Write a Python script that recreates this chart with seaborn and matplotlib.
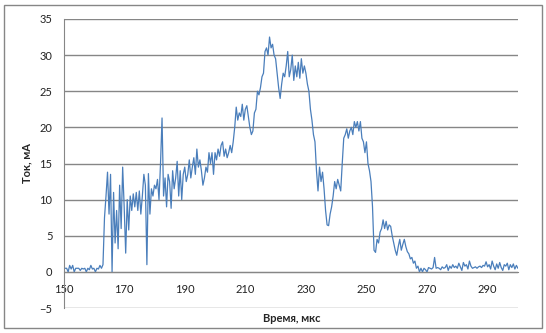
import numpy as np
import pandas as pd
import seaborn as sns
import matplotlib.pyplot as plt
from matplotlib.patches import Rectangle

# sampling of the trace (µs)
t_start = 150.0
t_step = 0.5

# current, mA, every 0.5 µs from 150 to 300
current = [
    0.5, 0.5, 0.5, 0.0, 0.9, 0.4, 0.9, 0.0, 0.5, 0.5, 0.5, 0.2, 0.5, 0.4, 0.5, 0.0, 0.5, 0.3, 0.9, 0.4,
    0.5, 0.0, 0.5, 0.4, 0.9, 0.5, 1.0, 7.5, 10.5, 13.8, 8.0, 13.5, 0.0, 11.0, 4.0, 8.5, 3.2, 12.0, 6.0, 14.5,
    9.0, 2.6, 10.0, 5.8, 10.5, 8.5, 10.8, 9.0, 11.0, 8.5, 11.2, 8.0, 10.5, 13.5, 12.0, 1.0, 13.6, 8.0, 11.5, 10.5,
    12.0, 11.5, 12.8, 10.0, 15.0, 21.3, 10.5, 13.0, 9.0, 13.5, 12.5, 8.8, 14.0, 11.5, 13.0, 15.3, 10.5, 14.0, 10.0, 13.5,
    14.5, 12.5, 13.5, 15.5, 13.0, 14.5, 15.8, 13.5, 17.0, 14.5, 15.5, 14.0, 12.0, 13.0, 14.5, 13.8, 16.5, 15.0, 16.5, 13.5,
    16.5, 15.5, 17.0, 16.0, 17.5, 18.0, 16.0, 17.0, 15.8, 16.5, 17.5, 16.5, 18.0, 20.0, 22.8, 21.0, 22.0, 21.5, 23.2, 21.0,
    22.5, 23.0, 21.5, 20.0, 19.0, 19.5, 22.0, 22.5, 25.0, 24.5, 25.5, 27.0, 27.5, 30.5, 31.0, 30.0, 32.5, 31.0, 31.5, 30.0,
    29.5, 27.5, 25.5, 24.0, 26.0, 27.5, 27.0, 28.5, 30.5, 27.0, 28.0, 30.0, 26.5, 28.5, 27.0, 29.0, 26.8, 29.5, 27.5, 28.5,
    27.5, 26.0, 25.0, 22.5, 21.0, 19.0, 18.0, 14.0, 11.2, 14.5, 12.5, 13.8, 11.5, 8.5, 6.5, 6.4, 8.0, 9.0, 10.5, 12.5,
    11.5, 12.8, 12.0, 11.2, 15.0, 18.5, 19.0, 19.8, 18.5, 19.5, 20.0, 19.0, 20.8, 20.0, 20.8, 19.5, 20.8, 18.5, 18.0, 16.5,
    18.0, 15.0, 14.0, 12.5, 9.0, 3.0, 2.7, 4.5, 4.0, 5.5, 6.0, 7.2, 6.0, 7.0, 5.8, 6.5, 6.3, 5.0, 4.0, 3.0,
    2.3, 3.5, 4.5, 3.0, 3.8, 4.5, 3.5, 2.8, 2.5, 1.8, 2.0, 1.2, 1.5, 0.5, 0.8, 0.0, 0.5, 0.0, 0.5, 0.3,
    0.0, 0.6, 0.5, 0.4, 0.6, 2.0, 0.5, 0.6, 0.5, 0.3, 0.7, 0.5, 0.6, 1.0, 0.2, 0.8, 0.5, 1.0, 0.6, 0.8,
    0.5, 1.2, 0.7, 0.2, 1.3, 0.8, 1.0, 0.4, 1.5, 0.8, 0.5, 0.6, 0.7, 0.5, 0.7, 0.8, 0.6, 0.9, 0.8, 1.4,
    0.7, 1.0, 0.4, 1.5, 0.8, 0.3, 1.1, 0.5, 1.3, 0.6, 0.2, 1.0, 0.8, 1.2, 0.3, 1.0, 0.6, 1.1, 0.4, 0.9,
    0.5,
]

x_ticks = [150, 170, 190, 210, 230, 250, 270, 290]
y_ticks = [-5, 0, 5, 10, 15, 20, 25, 30, 35]

df = pd.DataFrame({
    'time': t_start + t_step * np.arange(len(current)),
    'current': current,
})

sns.set_style('white')
plt.rcParams['font.family'] = ['Lato', 'DejaVu Sans']

grey = '#868686'
fig = plt.figure(figsize=(5.46, 3.33), dpi=100)
ax = fig.add_axes([0.1165, 0.075, 0.832, 0.868])

sns.lineplot(data=df, x='time', y='current', ax=ax, color='#4A7EBB', linewidth=0.9)

ax.set_xlim(150, 300)
ax.set_ylim(-5, 35)
ax.set_xticks(x_ticks)
ax.set_yticks(y_ticks)
ax.yaxis.grid(True, color=grey, linewidth=1)
ax.xaxis.grid(False)
ax.set_axisbelow(True)

for side in ['top', 'right']:
    ax.spines[side].set_visible(False)
ax.spines['bottom'].set_position(('data', 0))
ax.spines['bottom'].set_color(grey)
ax.spines['left'].set_color(grey)
ax.tick_params(axis='both', direction='out', length=4, color=grey, labelsize=8, labelcolor='#222222')
ax.tick_params(axis='x', pad=5)
ax.tick_params(axis='y', pad=4)
for lbl in ax.get_xticklabels():
    lbl.set_verticalalignment('top')

ax.set_xlabel('')
ax.set_ylabel('')
fig.text(0.534, 0.045, 'Время, мкс', ha='center', va='center', fontsize=8, fontweight='bold')
fig.text(0.05, 0.51, 'Ток, мА', ha='center', va='center', rotation=90, fontsize=8, fontweight='bold')

fig.patches.append(Rectangle((0.008, 0.015), 0.984, 0.97, transform=fig.transFigure,
                             fill=False, edgecolor=grey, linewidth=1))

fig.savefig('out.png', dpi=100)
